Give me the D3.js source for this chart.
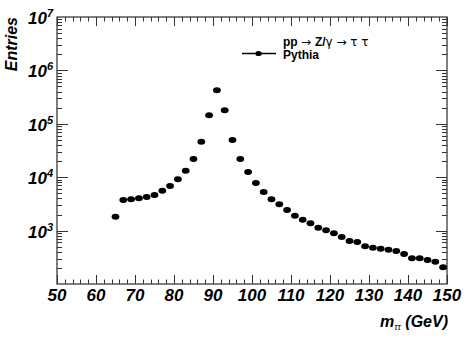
<!DOCTYPE html>
<html>
<head>
<meta charset="utf-8">
<script src="https://cdn.jsdelivr.net/npm/d3@7"></script>
<style>
  body { margin: 0; background: #fff; }
  text { font-family: 'Liberation Sans', Arial, Helvetica, sans-serif; }
</style>
</head>
<body>
<div id="chart"></div>
<script>
// bin centres (GeV) and entries
const mass = [65, 67, 69, 71, 73, 75, 77, 79, 81, 83, 85, 87, 89, 91, 93, 95,
  97, 99, 101, 103, 105, 107, 109, 111, 113, 115, 117, 119, 121, 123, 125, 127,
  129, 131, 133, 135, 137, 139, 141, 143, 145, 147, 149]
const entries = [1820, 3740, 3850, 4030, 4260, 4640, 5590, 6840, 9120, 13200, 21900, 46200, 144000, 424000, 179000, 49800,
  21900, 12500, 7790, 5280, 3850, 3110, 2430, 1900, 1600, 1370, 1130, 1010, 889, 759, 638, 612,
  508, 478, 458, 439, 415, 365, 303, 303, 281, 262, 206]
const xTicks = [50, 60, 70, 80, 90, 100, 110, 120, 130, 140, 150]
const yDecades = [3, 4, 5, 6, 7]

const width = 471
const height = 340
const margin = {left: 57, top: 17, right: 24, bottom: 56}

const svg = d3.select('#chart')
  .append('svg')
  .attr('width', width)
  .attr('height', height)

const x = d3.scaleLinear().domain([50, 150]).range([margin.left, width - margin.right])
const y = d3.scaleLog().domain([100, 1e7]).range([height - margin.bottom, margin.top])

const x0 = x.range()[0], x1 = x.range()[1]
const y0 = y.range()[0], y1 = y.range()[1]
const tickCol = '#333'

// frame
svg.append('rect')
  .attr('x', x0).attr('y', y1)
  .attr('width', x1 - x0).attr('height', y0 - y1)
  .attr('fill', 'none').attr('stroke', '#000').attr('stroke-width', 1)

// x ticks (bottom and top)
const xMinor = d3.range(50, 151, 2)
const tg = svg.append('g').attr('stroke', tickCol).attr('stroke-width', 1)
xMinor.forEach(v => {
  const major = v % 10 === 0
  const len = major ? 9 : 4.5
  const px = Math.round(x(v)) + 0.5
  tg.append('line').attr('x1', px).attr('x2', px).attr('y1', y0).attr('y2', y0 - len)
  tg.append('line').attr('x1', px).attr('x2', px).attr('y1', y1).attr('y2', y1 + len)
})

// y ticks (left and right)
const yTickVals = []
for (let e = 2; e < 7; e++) {
  for (let m = 1; m <= 9; m++) {
    const v = m * Math.pow(10, e)
    if (v > 100) yTickVals.push({v, major: m === 1})
  }
}
yTickVals.forEach(t => {
  const len = t.major ? 11 : 5
  const py = Math.round(y(t.v)) + 0.5
  tg.append('line').attr('x1', x0).attr('x2', x0 + len).attr('y1', py).attr('y2', py)
  tg.append('line').attr('x1', x1).attr('x2', x1 - len).attr('y1', py).attr('y2', py)
})

// x tick labels
svg.append('g').selectAll('text')
  .data(xTicks).enter()
  .append('text')
  .attr('x', d => x(d))
  .attr('y', y0 + 17)
  .attr('text-anchor', 'middle')
  .attr('font-size', 17)
  .attr('font-weight', 'bold')
  .attr('font-style', 'italic')
  .text(d => d)

// y tick labels
const yl = svg.append('g').selectAll('text')
  .data(yDecades).enter()
  .append('text')
  .attr('x', x0 - 4)
  .attr('y', d => y(Math.pow(10, d)) + 7)
  .attr('text-anchor', 'end')
  .attr('font-weight', 'bold')
  .attr('font-style', 'italic')
yl.append('tspan').attr('font-size', 17).text('10')
yl.append('tspan').attr('font-size', 11).attr('dy', -7).text(d => d)

// axis titles
svg.append('text')
  .attr('transform', `translate(${17},${y1}) rotate(-90)`)
  .attr('text-anchor', 'end')
  .attr('font-size', 16)
  .attr('font-weight', 'bold')
  .attr('font-style', 'italic')
  .text('Entries')

const xt = svg.append('text')
  .attr('x', x1 + 1)
  .attr('y', y0 + 43)
  .attr('text-anchor', 'end')
  .attr('font-size', 16)
  .attr('font-weight', 'bold')
  .attr('font-style', 'italic')
xt.append('tspan').text('m')
xt.append('tspan').attr('font-size', 9).attr('font-weight', 'normal').attr('dy', 3).text('ττ')
xt.append('tspan').attr('dy', -3).text(' (GeV)')

// data points
svg.append('g').selectAll('ellipse')
  .data(mass).enter()
  .append('ellipse')
  .attr('cx', (d, i) => x(d))
  .attr('cy', (d, i) => y(entries[i]))
  .attr('rx', 3.9)
  .attr('ry', 3)
  .attr('fill', '#000')

// legend
const lg = svg.append('g')
const head = lg.append('text')
  .attr('x', 283).attr('y', 46)
  .attr('font-size', 12)
  .attr('font-weight', 'bold')
const sym = 'DejaVu Sans'
head.append('tspan').text('pp ')
head.append('tspan').attr('font-weight', 'normal').attr('font-family', sym).text('→ ')
head.append('tspan').text('Z/')
head.append('tspan').attr('font-weight', 'normal').attr('font-family', sym).text('γ → τ τ')
lg.append('line')
  .attr('x1', 242).attr('x2', 276).attr('y1', 53.5).attr('y2', 53.5)
  .attr('stroke', '#000').attr('stroke-width', 1.5)
lg.append('ellipse')
  .attr('cx', 258.5).attr('cy', 53.5).attr('rx', 3.2).attr('ry', 2.6).attr('fill', '#000')
lg.append('text')
  .attr('x', 283).attr('y', 58.5)
  .attr('font-size', 12)
  .attr('font-weight', 'bold')
  .text('Pythia')
</script>
</body>
</html>
